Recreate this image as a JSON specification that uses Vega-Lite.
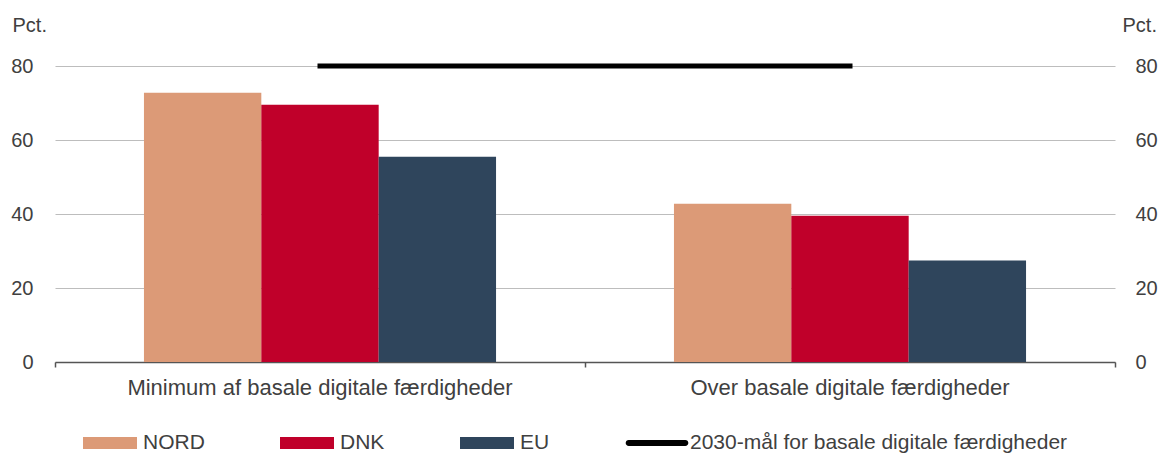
{
  "$schema": "https://vega.github.io/schema/vega-lite/v6.json",
  "width": 1060,
  "height": 296,
  "autosize": {"type": "none"},
  "padding": {"left": 55, "top": 66, "right": 51, "bottom": 94},
  "background": "white",
  "config": {"view": {"stroke": null}, "font": "Liberation Sans"},
  "layer": [
    {
      "data": {"values": [
        {"kategori": "Minimum af basale digitale færdigheder", "serie": "NORD", "pct": 72.8},
        {"kategori": "Minimum af basale digitale færdigheder", "serie": "DNK", "pct": 69.5},
        {"kategori": "Minimum af basale digitale færdigheder", "serie": "EU", "pct": 55.5},
        {"kategori": "Over basale digitale færdigheder", "serie": "NORD", "pct": 42.8},
        {"kategori": "Over basale digitale færdigheder", "serie": "DNK", "pct": 39.5},
        {"kategori": "Over basale digitale færdigheder", "serie": "EU", "pct": 27.4}
      ]},
      "mark": {"type": "bar"},
      "encoding": {
        "x": {
          "field": "kategori", "type": "nominal", "sort": null,
          "scale": {"paddingInner": 0, "paddingOuter": 0},
          "axis": {
            "title": null, "bandPosition": 1, "tickExtra": true,
            "labelPadding": 10, "tickSize": 5, "tickColor": "#555555", "tickWidth": 1.5,
            "domainColor": "#555555", "domainWidth": 1.5, "labelFontSize": 22,
            "labelColor": "#404040", "labelLimit": 600, "labelAngle": 0, "grid": false
          }
        },
        "xOffset": {"field": "serie", "type": "nominal", "sort": ["NORD", "DNK", "EU"], "scale": {"paddingInner": 0, "paddingOuter": 0.758}},
        "y": {
          "field": "pct", "type": "quantitative",
          "scale": {"domain": [0, 80], "nice": false},
          "axis": {
            "values": [0, 20, 40, 60, 80], "title": "Pct.", "titleAngle": 0,
            "titleX": -43, "titleY": -41, "titleAlign": "left", "titleBaseline": "middle",
            "titleFontSize": 20, "titleFontWeight": "normal", "titleColor": "#404040",
            "labelFontSize": 20, "labelColor": "#404040", "labelPadding": 22,
            "ticks": false, "domain": false, "grid": true, "gridColor": "#bdbdbd", "gridWidth": 1
          }
        },
        "color": {
          "field": "serie", "type": "nominal",
          "scale": {
            "domain": ["NORD", "DNK", "EU", "2030-mål for basale digitale færdigheder"],
            "range": ["#DC9A77", "#C0002A", "#2F455C", "#000000"]
          },
          "legend": {
            "title": null, "orient": "none", "legendX": 28, "legendY": 350,
            "direction": "horizontal", "columns": 4, "columnPadding": 75,
            "labelFontSize": 21, "labelColor": "#404040", "labelLimit": 600, "labelOffset": 6,
            "symbolSize": 2916, "symbolStrokeWidth": 0,
            "symbolType": "M-1,-0.222H1V0.222H-1Z",
            "encode": {
              "symbols": {
                "update": {
                  "shape": {"signal": "datum.value === '2030-mål for basale digitale færdigheder' ? 'M-1.05,-0.11H1.05A0.11,0.11 0 0 1 1.05,0.11H-1.05A0.11,0.11 0 0 1 -1.05,-0.11Z' : 'M-1,-0.222H1V0.222H-1Z'"}
                }
              }
            }
          }
        }
      }
    },
    {
      "data": {"values": [
        {"kategori": "Minimum af basale digitale færdigheder", "maal": 80},
        {"kategori": "Over basale digitale færdigheder", "maal": 80}
      ]},
      "mark": {"type": "line", "color": "black", "strokeWidth": 5, "strokeCap": "square"},
      "encoding": {
        "x": {"field": "kategori", "type": "nominal", "sort": null},
        "y": {
          "field": "maal", "type": "quantitative",
          "axis": {
            "orient": "right", "values": [0, 20, 40, 60, 80], "title": "Pct.", "titleAngle": 0,
            "titleX": 7, "titleY": -41, "titleAlign": "left", "titleBaseline": "middle",
            "titleFontSize": 20, "titleFontWeight": "normal", "titleColor": "#404040",
            "labelFontSize": 20, "labelColor": "#404040", "labelPadding": 20,
            "ticks": false, "domain": false, "grid": false
          }
        }
      }
    }
  ],
  "resolve": {"axis": {"y": "independent"}}
}
